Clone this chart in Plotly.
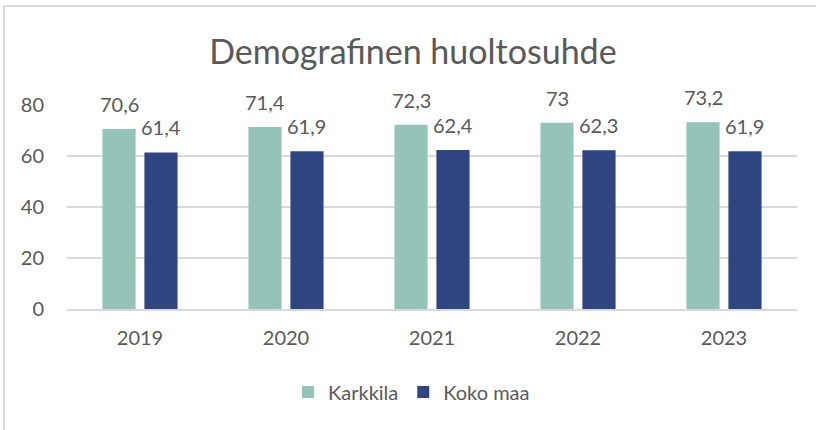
import plotly.graph_objects as go

years = ["2019", "2020", "2021", "2022", "2023"]
karkkila = [70.6, 71.4, 72.3, 73, 73.2]
koko_maa = [61.4, 61.9, 62.4, 62.3, 61.9]
series_names = ["Karkkila", "Koko maa"]
y_ticks = [0, 20, 40, 60, 80]

TEAL = "#95C3B8"
NAVY = "#30447F"
TXT = "#595959"
FONT = "Lato"

W, H = 816, 430
L, R, T, B = 67, 19, 105, 121
pw, ph = W - L - R, H - T - B
BARGAP = 0.425
# half of a bar slot in pixels: offset of each bar's centre from its category centre
slot_half = pw / len(years) * (1 - BARGAP) / 4

def fmt(v):
    return f"{v:g}".replace(".", ",")

fig = go.Figure()
annotations = []
for (name, vals, col), sgn in zip(
        [(series_names[0], karkkila, TEAL), (series_names[1], koko_maa, NAVY)], (-1, 1)):
    fig.add_trace(go.Bar(x=years, y=vals, name=name, marker_color=col, marker_line_width=0))
    for i, v in enumerate(vals):
        annotations.append(dict(
            x=i, y=v, xref="x", yref="y", text=fmt(v), showarrow=False,
            xshift=sgn * slot_half, yshift=11, yanchor="bottom", xanchor="center",
            font=dict(family=FONT, size=20, color=TXT)))

def px_x(p):
    return (p - L) / pw

def px_y(p):
    return (H - B - p) / ph

fig.update_layout(
    width=W, height=H,
    margin=dict(l=L, r=R, t=T, b=B, pad=0),
    paper_bgcolor="white", plot_bgcolor="white",
    separators=", ",
    barmode="group", bargap=BARGAP, bargroupgap=0.21,
    title=dict(text="Demografinen huoltosuhde", x=0.506, xanchor="center",
               y=1 - 52 / H, yanchor="middle",
               font=dict(family=FONT, size=34, color=TXT)),
    font=dict(family=FONT, color=TXT, size=20),
    xaxis=dict(type="category", range=[-0.5, len(years) - 0.5], showgrid=False,
               showline=True, linecolor="#D9D9D9", linewidth=1.5,
               ticks="", tickfont=dict(family=FONT, size=20, color=TXT), ticklabelstandoff=10),
    yaxis=dict(range=[0, 80], tickvals=y_ticks, showgrid=True, gridcolor="#D9D9D9",
               gridwidth=1.5, zeroline=False, showline=False, ticks="",
               tickfont=dict(family=FONT, size=20, color=TXT), ticklabelstandoff=22),
    legend=dict(orientation="h", x=0.472, xanchor="center", y=px_y(392), yanchor="middle",
                font=dict(family=FONT, size=20, color=TXT), itemwidth=30,
                traceorder="normal"),
    annotations=annotations,
    shapes=[
        dict(type="line", xref="paper", yref="paper", x0=px_x(4), x1=px_x(4),
             y0=px_y(6), y1=px_y(430), line=dict(color="#D9D9D9", width=2)),
        dict(type="line", xref="paper", yref="paper", x0=px_x(4), x1=px_x(816),
             y0=px_y(6), y1=px_y(6), line=dict(color="#D9D9D9", width=2)),
    ],
)

fig.write_html("out.html", config={"displayModeBar": False},
               post_script="document.body.style.margin='0';")
